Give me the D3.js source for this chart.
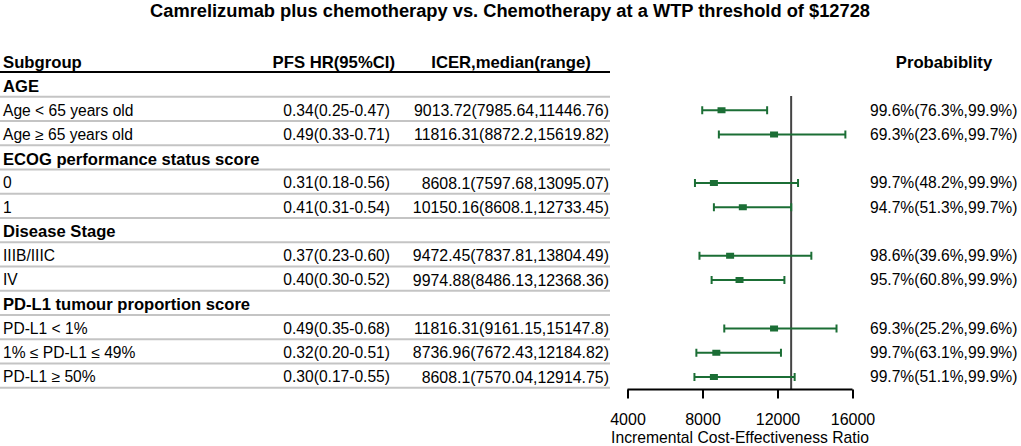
<!DOCTYPE html>
<html>
<head>
<meta charset="utf-8">
<script src="https://cdn.jsdelivr.net/npm/d3@7"></script>
<style>
  html, body { margin: 0; padding: 0; background: #fff; }
  svg { display: block; font-family: "Liberation Sans", Arial, sans-serif; }
</style>
</head>
<body>
<svg id="chart" width="1021" height="446"></svg>
<script>
// ---- data ----
const titleText = "Camrelizumab plus chemotherapy vs. Chemotherapy at a WTP threshold of $12728";
const columnHeaders = ["Subgroup", "PFS HR(95%CI)", "ICER,median(range)", "Probabiblity"];
const subgroups = ["AGE", "Age < 65 years old", "Age ≥ 65 years old",
  "ECOG performance status score", "0", "1",
  "Disease Stage", "IIIB/IIIC", "IV",
  "PD-L1 tumour proportion score", "PD-L1 < 1%", "1% ≤ PD-L1 ≤ 49%", "PD-L1 ≥ 50%"];
const isGroupHeader = [true, false, false, true, false, false, true, false, false, true, false, false, false];
const hrText = ["", "0.34(0.25-0.47)", "0.49(0.33-0.71)", "", "0.31(0.18-0.56)", "0.41(0.31-0.54)",
  "", "0.37(0.23-0.60)", "0.40(0.30-0.52)", "", "0.49(0.35-0.68)", "0.32(0.20-0.51)", "0.30(0.17-0.55)"];
const icerMedian = [null, 9013.72, 11816.31, null, 8608.1, 10150.16, null, 9472.45, 9974.88, null, 11816.31, 8736.96, 8608.1];
const icerLow = [null, 7985.64, 8872.2, null, 7597.68, 8608.1, null, 7837.81, 8486.13, null, 9161.15, 7672.43, 7570.04];
const icerHigh = [null, 11446.76, 15619.82, null, 13095.07, 12733.45, null, 13804.49, 12368.36, null, 15147.8, 12184.82, 12914.75];
const probText = ["", "99.6%(76.3%,99.9%)", "69.3%(23.6%,99.7%)", "", "99.7%(48.2%,99.9%)", "94.7%(51.3%,99.7%)",
  "", "98.6%(39.6%,99.9%)", "95.7%(60.8%,99.9%)", "", "69.3%(25.2%,99.6%)", "99.7%(63.1%,99.9%)", "99.7%(51.1%,99.9%)"];
const wtp = 12728;
const xTicks = [4000, 8000, 12000, 16000];
const xAxisTitle = "Incremental Cost-Effectiveness Ratio";

// ---- layout ----
const svg = d3.select("#chart");
const green = "#1b6e35";
const idx = subgroups.map((d, i) => i);
const y = d3.scalePoint().domain(idx).range([86, 377]);
const rowStep = y.step();
const x = d3.scaleLinear().domain([4000, 16000]).range([627.5, 852.5]);
const axisY = 389.5;
const headerY = 62;
const bodySize = 15.6;

svg.append("text").attr("x", 510).attr("y", 10.5).attr("text-anchor", "middle")
  .attr("font-size", 18.3).attr("font-weight", "bold").attr("dy", "0.35em").text(titleText);

// column headers
const hdr = svg.append("g").attr("font-size", 16.7).attr("font-weight", "bold");
hdr.append("text").attr("x", 3).attr("y", headerY).attr("dy", "0.35em").text(columnHeaders[0]);
hdr.append("text").attr("x", 395).attr("y", headerY).attr("dy", "0.35em").attr("text-anchor", "end").text(columnHeaders[1]);
hdr.append("text").attr("x", 511).attr("y", headerY).attr("dy", "0.35em").attr("text-anchor", "middle").text(columnHeaders[2]);
hdr.append("text").attr("x", 944).attr("y", headerY).attr("dy", "0.35em").attr("text-anchor", "middle").text(columnHeaders[3]);

svg.append("line").attr("x1", 0).attr("x2", 610).attr("y1", 72).attr("y2", 72)
  .attr("stroke", "#000").attr("stroke-width", 2);

// row separators
svg.append("g").selectAll("line").data(idx).join("line")
  .attr("x1", 0).attr("x2", 610)
  .attr("y1", d => y(d) + rowStep / 2 - 1.5).attr("y2", d => y(d) + rowStep / 2 - 1.5)
  .attr("stroke", "#c4c4c4").attr("stroke-width", 2);

// table text
const rows = svg.append("g").selectAll("g").data(idx).join("g")
  .attr("transform", d => `translate(0,${y(d)})`);
rows.append("text").attr("x", 3).attr("dy", "0.35em")
  .attr("font-size", d => isGroupHeader[d] ? 16.6 : bodySize)
  .attr("font-weight", d => isGroupHeader[d] ? "bold" : "normal")
  .text(d => subgroups[d]);
rows.append("text").attr("x", 390).attr("dy", "0.35em").attr("text-anchor", "end").attr("font-size", bodySize)
  .text(d => hrText[d]);
rows.append("text").attr("x", 609).attr("dy", "0.35em").attr("text-anchor", "end").attr("font-size", 15.9)
  .text(d => icerMedian[d] == null ? "" : `${icerMedian[d]}(${icerLow[d]},${icerHigh[d]})`);
rows.append("text").attr("x", 870).attr("dy", "0.35em").attr("font-size", bodySize)
  .text(d => probText[d]);

// reference line
svg.append("line").attr("x1", x(wtp)).attr("x2", x(wtp)).attr("y1", 96).attr("y2", axisY)
  .attr("stroke", "#444").attr("stroke-width", 2);

// error bars
const pts = idx.filter(d => icerMedian[d] != null);
const eb = svg.append("g").selectAll("g").data(pts).join("g")
  .attr("transform", d => `translate(0,${y(d)})`);
eb.append("line").attr("x1", d => x(icerLow[d])).attr("x2", d => x(icerHigh[d]))
  .attr("stroke", green).attr("stroke-width", 2);
eb.append("line").attr("x1", d => x(icerLow[d])).attr("x2", d => x(icerLow[d])).attr("y1", -4).attr("y2", 4)
  .attr("stroke", green).attr("stroke-width", 2);
eb.append("line").attr("x1", d => x(icerHigh[d])).attr("x2", d => x(icerHigh[d])).attr("y1", -4).attr("y2", 4)
  .attr("stroke", green).attr("stroke-width", 2);
eb.append("rect").attr("x", d => x(icerMedian[d]) - 4).attr("y", -3).attr("width", 8).attr("height", 6)
  .attr("fill", green);

// x axis
const axis = d3.axisBottom(x).tickValues(xTicks).tickSize(9).tickPadding(15).tickFormat(d3.format("d"));
const gx = svg.append("g").attr("transform", `translate(0,${axisY})`).call(axis);
gx.select(".domain").attr("stroke", "#000").attr("stroke-width", 2).attr("d", `M${x(4000)},0H${x(16000)}`);
gx.selectAll(".tick line").attr("stroke", "#000").attr("stroke-width", 2);
gx.selectAll(".tick text").attr("font-size", 16).attr("font-family", "Liberation Sans, Arial, sans-serif").attr("fill", "#000");
svg.append("text").attr("x", (x(4000) + x(16000)) / 2).attr("y", 438).attr("dy", "0.35em")
  .attr("text-anchor", "middle").attr("font-size", 15.7).text(xAxisTitle);
</script>
</body>
</html>
